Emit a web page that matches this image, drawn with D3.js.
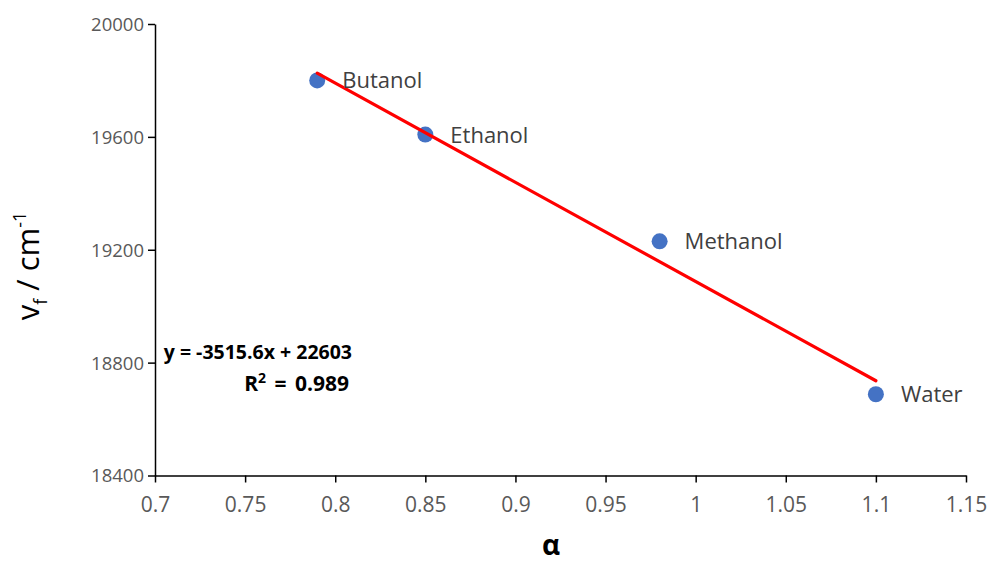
<!DOCTYPE html>
<html>
<head>
<meta charset="utf-8">
<script src="https://cdn.jsdelivr.net/npm/d3@7"></script>
<style>
  html, body { margin: 0; padding: 0; background: #ffffff; }
  svg { display: block; }
</style>
</head>
<body>
<svg id="chart" width="990" height="567"></svg>
<script>
// Solvent data: polarity parameter alpha vs fluorescence wavenumber
const solvents = ["Butanol", "Ethanol", "Methanol", "Water"];
const alphaValues = [0.79, 0.85, 0.98, 1.10];
const wavenumbers = [19800, 19608, 19230, 18688];

// Linear fit reported for the series
const fitSlope = -3515.6;
const fitIntercept = 22603;
const fitR2 = 0.989;

const xTicks = [0.7, 0.75, 0.8, 0.85, 0.9, 0.95, 1, 1.05, 1.1, 1.15];
const yTicks = [18400, 18800, 19200, 19600, 20000];

const svg = d3.select("#chart");
const font = "'Open Sans', 'Liberation Sans', sans-serif";

const x = d3.scaleLinear().domain([0.7, 1.15]).range([155, 966]);
const y = d3.scaleLinear().domain([18400, 20000]).range([475.5, 24]);

// Axes
const xAxis = d3.axisBottom(x).tickValues(xTicks).tickSize(7).tickSizeOuter(0)
  .tickFormat(d => String(d));
const yAxis = d3.axisLeft(y).tickValues(yTicks).tickSize(7).tickSizeOuter(0)
  .tickFormat(d => String(d));

const gx = svg.append("g").attr("transform", `translate(0,${y(18400)})`).call(xAxis);
const gy = svg.append("g").attr("transform", `translate(${x(0.7)},0)`).call(yAxis);

[gx, gy].forEach(g => {
  g.select(".domain").attr("stroke", "#000").attr("stroke-width", 1.5);
  g.selectAll(".tick line").attr("stroke", "#000").attr("stroke-width", 1.5);
  g.selectAll(".tick text")
    .attr("fill", "#595959")
    .style("font-family", font);
});
gx.selectAll(".tick text").style("font-size", "21px").attr("y", 22).attr("dy", "0.71em");
gy.selectAll(".tick text").style("font-size", "18.5px").attr("x", -11).attr("dy", "0.35em");

// Data markers
const pts = solvents.map((s, i) => ({ name: s, a: alphaValues[i], v: wavenumbers[i] }));
svg.append("g").selectAll("circle").data(pts).join("circle")
  .attr("cx", d => x(d.a)).attr("cy", d => y(d.v)).attr("r", 8)
  .attr("fill", "#4472c4");

// Trend line from the fitted equation
const xFit = [alphaValues[0], alphaValues[alphaValues.length - 1]];
svg.append("line")
  .attr("x1", x(xFit[0])).attr("y1", y(fitSlope * xFit[0] + fitIntercept))
  .attr("x2", x(xFit[1])).attr("y2", y(fitSlope * xFit[1] + fitIntercept))
  .attr("stroke", "#ff0000").attr("stroke-width", 3.2).attr("stroke-linecap", "round");

// Point labels
svg.append("g").selectAll("text").data(pts).join("text")
  .attr("x", d => x(d.a) + 25).attr("y", d => y(d.v) + 8)
  .attr("fill", "#404040")
  .style("font-family", font).style("font-size", "22px")
  .text(d => d.name);

// Fit equation
svg.append("text").attr("x", 352).attr("y", 359).attr("text-anchor", "end")
  .style("font-family", font).style("font-size", "19.5px").style("font-weight", "bold")
  .attr("fill", "#000")
  .text(`y = ${fitSlope}x + ${fitIntercept}`);
const r2 = svg.append("text").attr("x", 349).attr("y", 391).attr("text-anchor", "end")
  .style("font-family", font).style("font-size", "21px").style("font-weight", "bold")
  .style("word-spacing", "3px")
  .attr("fill", "#000");
r2.append("tspan").text("R");
r2.append("tspan").attr("dy", -8).style("font-size", "14px").text("2");
r2.append("tspan").attr("dy", 8).text(` = ${fitR2}`);

// Axis titles
svg.append("text").attr("x", 551).attr("y", 555).attr("text-anchor", "middle")
  .style("font-family", font).style("font-size", "28px").style("font-weight", "bold")
  .attr("fill", "#000").text("α");

const yt = svg.append("text")
  .attr("transform", `translate(39,266) rotate(-90)`)
  .attr("text-anchor", "middle")
  .style("font-family", font).style("font-size", "31px").attr("fill", "#000");
yt.append("tspan").text("v");
yt.append("tspan").attr("dy", 8).style("font-size", "18px").text("f");
yt.append("tspan").attr("dy", -8).text(" / cm");
yt.append("tspan").attr("dy", -13).style("font-size", "18px").text("-1");
</script>
</body>
</html>
